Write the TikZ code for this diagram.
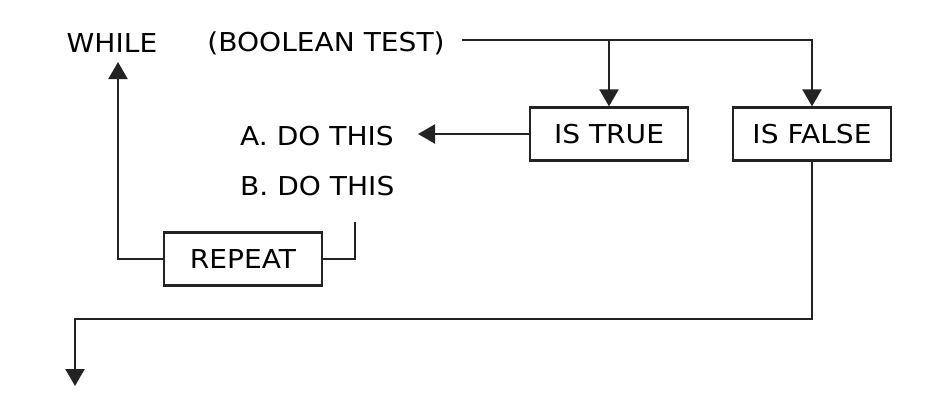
\documentclass[tikz,border=0pt]{standalone}
\usepackage{fontspec}
\setmainfont{DejaVu Sans}[FakeStretch=1.08]
\usetikzlibrary{arrows.meta}
\definecolor{ink}{RGB}{35,35,35}

\begin{document}
\begin{tikzpicture}[x=1pt,y=-1pt,
  box/.style={rectangle,draw=ink,line width=2.2pt,minimum width=158pt,minimum height=53pt,font=\fontsize{26}{28}\selectfont},
  word/.style={font=\fontsize{26}{28}\selectfont,inner sep=0pt},
  flow/.style={draw=ink,line width=2.2pt},
  tip/.style={-{Triangle[width=19pt,length=17pt]}}]
\useasboundingbox (0,0) rectangle (940,402);
% texts
\node[word] (while) at (112,43) {WHILE};
\node[word] (test) at (326,43) {(BOOLEAN TEST)};
\node[word,anchor=west] (ado) at (240,136) {A. DO THIS};
\node[word,anchor=west] (bdo) at (240,186) {B. DO THIS};
% boxes
\node[box] (true) at (609,134) {IS TRUE};
\node[box] (false) at (812,134) {IS FALSE};
\node[box] (repeat) at (243,259) {REPEAT};
% turning points
\coordinate (out) at (462,40);
\coordinate (split) at (609,40);
\coordinate (into) at (418,134);
\coordinate (back) at (355,222);
\coordinate (up) at (118,62);
\coordinate (low) at (75,319);
\coordinate (exit) at (75,386);
% connectors
\draw[flow,tip] (out) -| (false.north);
\draw[flow,tip] (split) -- (true.north);
\draw[flow,tip] (true.west) -- (into);
\draw[flow] (repeat.east) -| (back);
\draw[flow,tip] (repeat.west) -| (up);
\draw[flow,tip] (false.south) |- (low) -- (exit);
\end{tikzpicture}
\end{document}
